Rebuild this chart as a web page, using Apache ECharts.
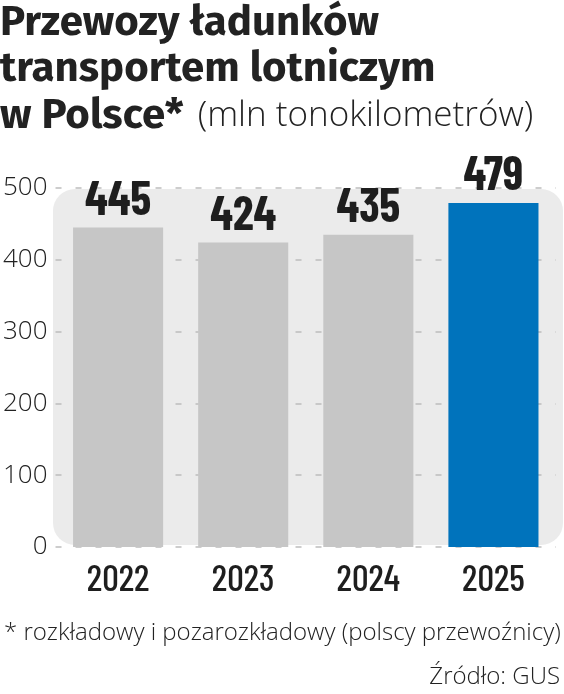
<!DOCTYPE html>
<html><head><meta charset="utf-8">
<script src="https://cdn.jsdelivr.net/npm/echarts@6/dist/echarts.min.js"></script>
<style>html,body{margin:0;padding:0;background:#fff}#c{width:564px;height:694px}</style>
</head><body><div id="c"></div>
<script>
var categories = ['2022', '2023', '2024', '2025'];
var values = [445, 424, 435, 479];
var yTicks = [0, 100, 200, 300, 400, 500];
var barColors = ['#c6c6c6', '#c6c6c6', '#c6c6c6', '#0073bc'];

var COND = "'Barlow Condensed','Roboto Condensed',sans-serif";
var FIRA = "'Fira Sans','Open Sans',sans-serif";
var LIGHT = "'Open Sans','Noto Sans',sans-serif";

var chart = echarts.init(document.getElementById('c'), null, {renderer: 'canvas'});
chart.setOption({
  animation: false,
  backgroundColor: '#fff',
  title: {
    left: 0, top: 0, padding: 0,
    text: '{b|Przewozy ładunków}\n{b|transportem lotniczym}\n{b|w Polsce*} {l| (mln tonokilometrów)}',
    textStyle: {
      rich: {
        b: {fontFamily: FIRA, fontWeight: 'bold', fontSize: 42, lineHeight: 46.5, color: '#222'},
        l: {fontFamily: LIGHT, fontWeight: 300, fontSize: 35, lineHeight: 46.5, color: '#222'}
      }
    }
  },
  graphic: [
    {type: 'rect', z: -10, silent: true, shape: {x: 53, y: 189, width: 510, height: 356, r: 22}, style: {fill: '#ebebeb'}},
    {type: 'text', left: 4, top: 621, style: {text: '* rozkładowy i pozarozkładowy (polscy przewoźnicy)', font: '300 24px ' + LIGHT, fill: '#222'}},
    {type: 'text', right: 4, top: 665, style: {text: 'Źródło: GUS', font: '300 24px ' + LIGHT, fill: '#222'}}
  ],
  grid: {left: 55, right: 8, top: 188, bottom: 147},
  xAxis: {
    type: 'category', data: categories,
    axisLine: {show: false}, axisTick: {show: false},
    axisLabel: {margin: 13, fontFamily: COND, fontWeight: 500, fontSize: 37, color: '#1e1e1e'}
  },
  yAxis: {
    type: 'value', min: 0, max: 500, interval: 100,
    axisLine: {show: false}, axisTick: {show: false},
    splitLine: {lineStyle: {color: '#bdbdbd', type: [6, 14], width: 1.5}},
    axisLabel: {margin: 8, fontFamily: LIGHT, fontWeight: 300, fontSize: 26, color: '#222',
      formatter: function (v) { return yTicks.indexOf(v) >= 0 ? String(v) : ''; }}
  },
  series: [{
    type: 'bar', barCategoryGap: '28%',
    data: values.map(function (v, i) { return {value: v, itemStyle: {color: barColors[i]}}; }),
    label: {show: true, position: 'top', distance: 5, fontFamily: COND, fontWeight: 700, fontSize: 47, color: '#1e1e1e'}
  }]
});
</script></body></html>
